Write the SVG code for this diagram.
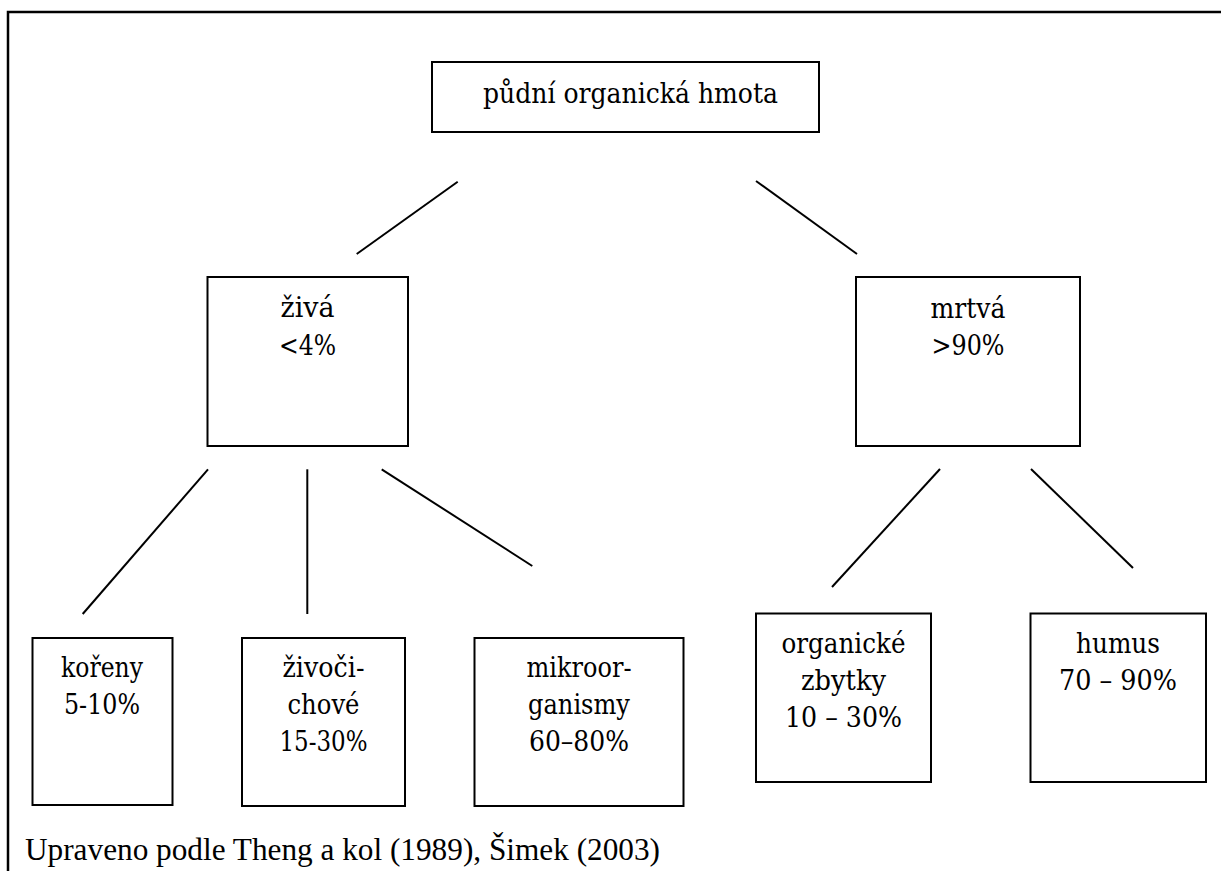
<svg xmlns="http://www.w3.org/2000/svg" width="1221" height="871" viewBox="0 0 1221 871">
<style>
.box{fill:#fff;stroke:#000;stroke-width:2}
.ln{stroke:#000;stroke-width:2;fill:none}
.t{font-family:'DejaVu Serif',serif;font-size:27px;fill:#000;text-anchor:middle}
</style>
<rect width="1221" height="871" fill="#fff"/>
<path d="M8,871 V12 H1221" stroke="#000" stroke-width="2.5" fill="none"/>
<g id="connectors">
<line class="ln" x1="457.7" y1="181.7" x2="356.7" y2="254"/>
<line class="ln" x1="756" y1="181" x2="857" y2="254"/>
<line class="ln" x1="208" y1="469.3" x2="82.7" y2="614"/>
<line class="ln" x1="307.3" y1="469.3" x2="307.3" y2="614"/>
<line class="ln" x1="381.7" y1="469.3" x2="532.3" y2="566"/>
<line class="ln" x1="940" y1="469" x2="832" y2="587"/>
<line class="ln" x1="1031" y1="469" x2="1133" y2="568"/>
</g>
<g id="root">
<rect class="box" x="432" y="62" width="387" height="70"/>
<text class="t" x="630.5" y="103" style="font-size:28px" textLength="295" lengthAdjust="spacingAndGlyphs">půdní organická hmota</text>
</g>
<g id="ziva">
<rect class="box" x="207.5" y="277" width="200.5" height="169"/>
<text class="t" x="307.5" y="317" textLength="54" lengthAdjust="spacingAndGlyphs">živá</text>
<text class="t" x="307.5" y="355" textLength="57" lengthAdjust="spacingAndGlyphs">&lt;4%</text>
</g>
<g id="mrtva">
<rect class="box" x="856" y="277" width="224" height="169"/>
<text class="t" x="968" y="318" textLength="75" lengthAdjust="spacingAndGlyphs">mrtvá</text>
<text class="t" x="968" y="355" textLength="73" lengthAdjust="spacingAndGlyphs">&gt;90%</text>
</g>
<g id="koreny">
<rect class="box" x="32.5" y="638" width="140" height="167"/>
<text class="t" x="102" y="677" textLength="82" lengthAdjust="spacingAndGlyphs">kořeny</text>
<text class="t" x="102" y="714" textLength="76" lengthAdjust="spacingAndGlyphs">5-10%</text>
</g>
<g id="zivocichove">
<rect class="box" x="242" y="638" width="163" height="168"/>
<text class="t" x="323.5" y="677" textLength="82" lengthAdjust="spacingAndGlyphs">živoči-</text>
<text class="t" x="323.5" y="714" textLength="72" lengthAdjust="spacingAndGlyphs">chové</text>
<text class="t" x="323.5" y="751" textLength="88" lengthAdjust="spacingAndGlyphs">15-30%</text>
</g>
<g id="mikroorganismy">
<rect class="box" x="474.5" y="638" width="209" height="168"/>
<text class="t" x="579" y="677" textLength="105" lengthAdjust="spacingAndGlyphs">mikroor-</text>
<text class="t" x="579" y="714" textLength="102" lengthAdjust="spacingAndGlyphs">ganismy</text>
<text class="t" x="579" y="751" textLength="100" lengthAdjust="spacingAndGlyphs">60–80%</text>
</g>
<g id="organicke">
<rect class="box" x="756" y="613.5" width="175" height="168.5"/>
<text class="t" x="843.5" y="653" textLength="124" lengthAdjust="spacingAndGlyphs">organické</text>
<text class="t" x="843.5" y="690" textLength="85" lengthAdjust="spacingAndGlyphs">zbytky</text>
<text class="t" x="843.5" y="727" textLength="117" lengthAdjust="spacingAndGlyphs">10 – 30%</text>
</g>
<g id="humus">
<rect class="box" x="1030.5" y="613.5" width="175.5" height="168.5"/>
<text class="t" x="1118" y="653" textLength="84" lengthAdjust="spacingAndGlyphs">humus</text>
<text class="t" x="1118" y="690" textLength="118" lengthAdjust="spacingAndGlyphs">70 – 90%</text>
</g>
<g id="caption">
<text x="25" y="860" style="font-family:'Liberation Serif','Times New Roman',serif;font-size:31px;fill:#000" textLength="635" lengthAdjust="spacingAndGlyphs">Upraveno podle Theng a kol (1989), Šimek (2003)</text>
</g>
</svg>
